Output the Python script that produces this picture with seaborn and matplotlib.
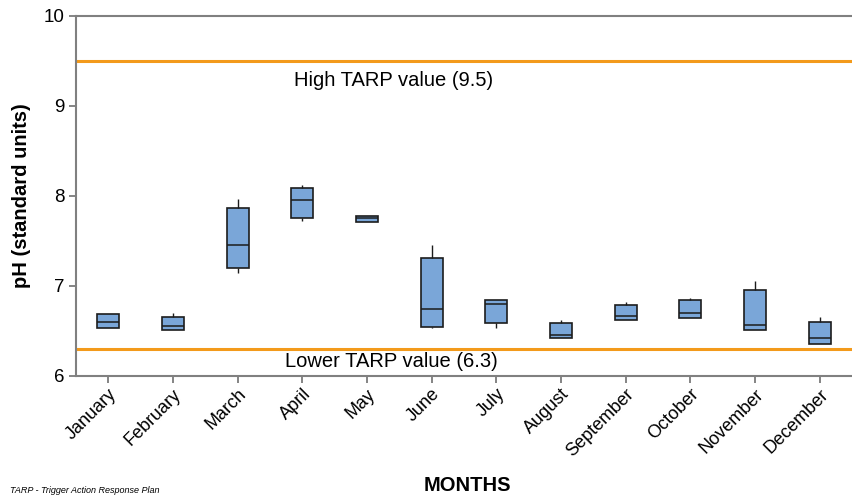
import matplotlib
matplotlib.use("Agg")
import matplotlib.pyplot as plt
import seaborn as sns
import pandas as pd

# Monthly pH summary statistics (standard units)
months = ["January", "February", "March", "April", "May", "June",
          "July", "August", "September", "October", "November", "December"]
mins    = [6.53, 6.51, 7.14, 7.72, 7.71, 6.53, 6.53, 6.42, 6.62, 6.64, 6.51, 6.36]
q1s     = [6.53, 6.51, 7.20, 7.76, 7.71, 6.54, 6.59, 6.42, 6.62, 6.64, 6.51, 6.36]
medians = [6.60, 6.56, 7.46, 7.96, 7.75, 6.74, 6.80, 6.45, 6.67, 6.70, 6.57, 6.42]
q3s     = [6.69, 6.65, 7.87, 8.09, 7.78, 7.31, 6.84, 6.59, 6.79, 6.84, 6.95, 6.60]
maxs    = [6.69, 6.70, 7.97, 8.12, 7.78, 7.46, 6.84, 6.62, 6.82, 6.87, 7.05, 6.65]

high_tarp = 9.5
low_tarp = 6.3

# Five values per month reproduce min / quartiles / median / max exactly
rows = []
for m, a, b, c, d, e in zip(months, mins, q1s, medians, q3s, maxs):
    for v in (a, b, c, d, e):
        rows.append({"month": m, "pH": v})
df = pd.DataFrame(rows)

sns.set_style("white")
plt.rcParams["font.family"] = ["Liberation Sans", "DejaVu Sans"]
plt.rcParams["text.color"] = "black"
plt.rcParams["axes.labelcolor"] = "black"
plt.rcParams["xtick.labelcolor"] = "black"
plt.rcParams["ytick.labelcolor"] = "black"

fig = plt.figure(figsize=(8.52, 4.96), dpi=100)
ax = fig.add_axes([0.089, 0.242, 0.911, 0.726])

edge = "#1c1c1c"
sns.boxplot(data=df, x="month", y="pH", order=months, ax=ax,
            color="#7aa6d8", saturation=1, width=0.34,
            showcaps=False, whis=10, fliersize=0,
            boxprops=dict(edgecolor=edge, linewidth=1.2),
            medianprops=dict(color=edge, linewidth=1.1),
            whiskerprops=dict(color=edge, linewidth=1.0))

orange = "#f39a1b"
ax.axhline(high_tarp, color=orange, lw=2.2, zorder=1)
ax.axhline(low_tarp, color=orange, lw=2.2, zorder=1)
ax.text(4.42, high_tarp - 0.11, f"High TARP value ({high_tarp})",
        ha="center", va="top", fontsize=14.5)
ax.text(4.38, low_tarp - 0.035, f"Lower TARP value ({low_tarp})",
        ha="center", va="top", fontsize=14.5)

ax.set_ylim(6, 10)
ax.set_xlim(-0.5, 11.5)
ax.set_yticks([6, 7, 8, 9, 10])
ax.tick_params(axis="y", labelsize=13.5, length=5, width=1.2, color="#707070",
               direction="out", left=True, pad=3)
ax.tick_params(axis="x", labelsize=13, length=5, width=1.2, color="#707070",
               direction="out", bottom=True, pad=2)
for lab in ax.get_xticklabels():
    lab.set_rotation(45)
    lab.set_ha("right")
    lab.set_rotation_mode("anchor")

for side in ("left", "bottom", "top"):
    ax.spines[side].set_color("#808080")
    ax.spines[side].set_linewidth(1.5)
ax.spines["right"].set_visible(False)

ax.set_ylabel("pH (standard units)", fontsize=14.5, fontweight="bold", labelpad=9)
ax.set_xlabel("")
fig.text(0.548, 0.022, "MONTHS", ha="center", va="center",
         fontsize=14.5, fontweight="bold")
fig.text(0.012, 0.003, "TARP - Trigger Action Response Plan", ha="left",
         va="bottom", fontsize=6.5, style="italic")

fig.savefig("out.png", dpi=100)
